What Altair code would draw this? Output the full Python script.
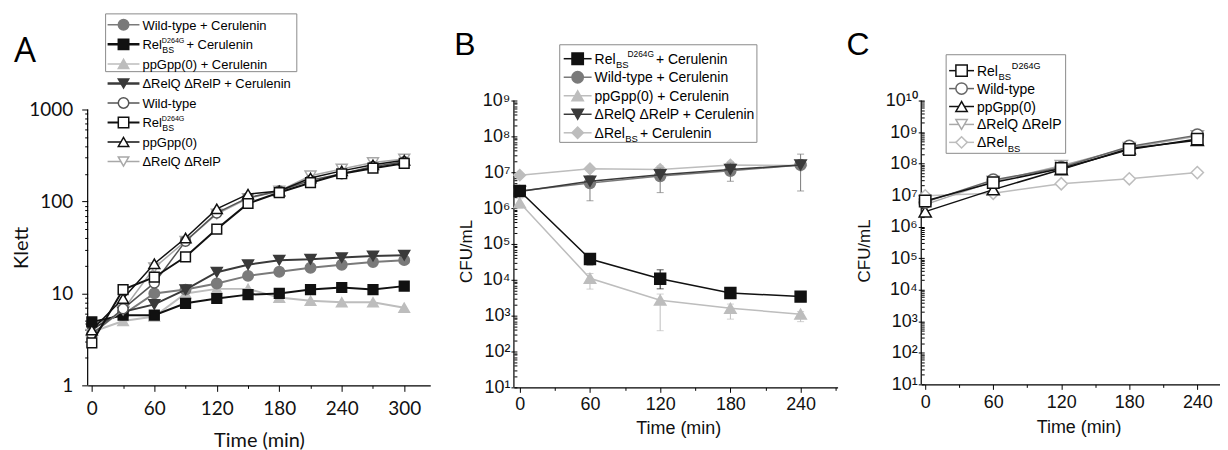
import altair as alt
import pandas as pd

# ---------------- Panel A : Klett growth curves ----------------
A_TIME = [0, 30, 60, 90, 120, 150, 180, 210, 240, 270, 300]
A_WT_CER = [4.6, 5.9, 10.0, 11.0, 12.8, 15.5, 17.2, 19.0, 20.5, 22.0, 23.0]
A_REL_CER = [4.9, 5.8, 5.8, 7.8, 8.8, 9.7, 10.0, 11.0, 11.6, 11.0, 12.0]
A_PPGPP_CER = [3.8, 5.0, 5.6, 10.0, 11.2, 11.2, 9.0, 8.3, 8.0, 8.0, 7.0]
A_RELQP_CER = [4.1, 6.3, 7.6, 11.0, 17.0, 20.5, 23.0, 23.5, 24.5, 25.5, 26.0]
A_WT = [3.6, 6.8, 13.0, 37.0, 75.0, 110.0, 130.0, 170.0, 200.0, 240.0, 270.0]
A_REL = [2.9, 11.0, 15.0, 25.0, 50.0, 95.0, 125.0, 160.0, 200.0, 230.0, 260.0]
A_PPGPP = [4.0, 8.8, 21.0, 40.0, 83.0, 120.0, 130.0, 180.0, 215.0, 250.0, 280.0]
A_RELQP = [3.6, 6.6, 19.0, 37.0, 73.0, 108.0, 130.0, 190.0, 225.0, 265.0, 290.0]
A_X_TICKS = [0, 30, 60, 90, 120, 150, 180, 210, 240, 270, 300]
A_Y_DECADES = [0, 1, 2]

# ---------------- Panel B : CFU/mL with cerulenin ----------------
B_TIME = [0, 60, 120, 180, 240]
B_REL_CER = [3.0e6, 3.8e4, 1.07e4, 4.3e3, 3.4e3]
B_REL_CER_LO = [2.5e6, 2.6e4, 5.6e3, 3.0e3, 3.0e3]
B_REL_CER_HI = [3.6e6, 5.2e4, 1.9e4, 5.6e3, 3.8e3]
B_WT_CER = [3.0e6, 5.0e6, 7.8e6, 1.1e7, 1.6e7]
B_WT_CER_LO = [2.6e6, 1.6e6, 2.7e6, 5.6e6, 3.0e6]
B_WT_CER_HI = [3.4e6, 8.0e6, 1.3e7, 1.8e7, 3.2e7]
B_PPGPP_CER = [1.4e6, 1.1e4, 2.7e3, 1.6e3, 1.1e3]
B_PPGPP_CER_LO = [1.0e6, 5.5e3, 3.8e2, 8.0e2, 6.8e2]
B_PPGPP_CER_HI = [1.9e6, 1.5e4, 4.0e3, 2.1e3, 1.3e3]
B_RELQP_CER = [2.9e6, 5.6e6, 8.5e6, 1.2e7, 1.6e7]
B_DREL_CER = [8.3e6, 1.25e7, 1.2e7, 1.6e7, 1.55e7]
B_DREL_CER_LO = [7.5e6, 1.1e7, 1.0e7, 1.3e7, 1.4e7]
B_DREL_CER_HI = [9.0e6, 1.4e7, 1.5e7, 2.0e7, 1.7e7]
B_X_TICKS = [0, 30, 60, 90, 120, 150, 180, 210, 240, 270]
B_Y_DECADES = [1, 2, 3, 4, 5, 6, 7, 8]

# ---------------- Panel C : CFU/mL growth ----------------
C_TIME = [0, 60, 120, 180, 240]
C_REL = [6.5e6, 2.5e7, 7.0e7, 2.8e8, 6.0e8]
C_WT = [6.0e6, 3.0e7, 7.5e7, 3.5e8, 8.0e8]
C_PPGPP = [3.0e6, 1.5e7, 6.5e7, 3.0e8, 5.5e8]
C_RELQP = [5.0e6, 2.7e7, 8.5e7, 3.2e8, 7.5e8]
C_DREL = [9.5e6, 1.15e7, 2.3e7, 3.3e7, 5.2e7]
C_X_TICKS = [0, 30, 60, 90, 120, 150, 180, 210, 240]
C_Y_DECADES = [1, 2, 3, 4, 5, 6, 7, 8, 9]

# ---------------- styling helpers ----------------
FA = "Lato"
FB = "Liberation Sans"
BLACK, DARK, GREY, LIGHT = "#111111", "#3a3a3a", "#7a7a7a", "#bdbdbd"

AW = {c: 556 for c in "0123456789abdeghnopqu"}
AW.update({"A": 667, "B": 667, "C": 722, "D": 722, "G": 778, "P": 667, "Q": 778,
           "R": 722, "S": 667, "W": 944, "c": 500, "f": 278, "i": 222, "j": 222,
           "k": 500, "l": 222, "m": 833, "r": 333, "s": 500, "t": 278, "v": 500,
           "y": 500, "z": 500, " ": 278, "+": 584, "-": 333, "(": 333, ")": 333,
           "\u0394": 668, "/": 278})


def tw(s, fs):
    return sum(AW.get(ch, 556) for ch in s) * fs / 1000.0


ONE = alt.Data(values=[{"a": 1}])


def log_ticks(decades):
    vals = []
    for k in decades:
        vals += [m * 10 ** k for m in range(1, 10)]
    vals.append(10 ** (decades[-1] + 1))
    return vals


MAJ_LOG = "abs(log(datum.value)/LN10 - round(log(datum.value)/LN10)) < 0.001"
SUP = "['\u2070','\u00b9','\u00b2','\u00b3','\u2074','\u2075','\u2076','\u2077','\u2078','\u2079']"
EXP = "round(log(datum.value)/LN10)"
SUP_LABEL = f"{MAJ_LOG} ? ('10' + ({EXP} >= 10 ? '\u00b9\u2070' : {SUP}[{EXP}])) : ''"


def series(X, Y, yscale, yaxis, t, v, color, shape, open_, size, lw=1.5, sw=1.5, lo=None, hi=None):
    d = {"t": t, "v": v}
    layers = []
    if lo is not None:
        d["lo"] = lo
        d["hi"] = hi
    df = pd.DataFrame(d)
    base = alt.Chart(df)
    layers.append(base.mark_line(color=color, strokeWidth=lw).encode(x=X, y=Y))
    if lo is not None:
        ylo = alt.Y("lo:Q", scale=yscale, axis=yaxis)
        yhi = alt.Y("hi:Q", scale=yscale, axis=yaxis)
        layers.append(base.mark_rule(color=color, strokeWidth=1).encode(x=X, y=ylo, y2="hi:Q"))
        layers.append(base.mark_tick(color=color, orient="horizontal", size=7, thickness=1).encode(x=X, y=ylo))
        layers.append(base.mark_tick(color=color, orient="horizontal", size=7, thickness=1).encode(x=X, y=yhi))
    layers.append(base.mark_point(shape=shape, filled=True, fill="white" if open_ else color,
                                  stroke=color, strokeWidth=sw, size=size, opacity=1).encode(x=X, y=Y))
    return layers


def legend(items, box, x0, y0, dy, line_len, fs, font, mk_size, text_gap=3):
    L = [alt.Chart(ONE).mark_rect(fill="white", stroke="#8a8a8a", strokeWidth=1).encode(
        x=alt.value(box[0]), x2=alt.value(box[2]), y=alt.value(box[1]), y2=alt.value(box[3]))]
    for i, it in enumerate(items):
        y = y0 + i * dy
        L.append(alt.Chart(ONE).mark_rule(color=it["color"], strokeWidth=it.get("lw", 1.5)).encode(
            x=alt.value(x0), x2=alt.value(x0 + line_len), y=alt.value(y)))
        L.append(alt.Chart(ONE).mark_point(shape=it["shape"], filled=True,
                                           fill="white" if it["open"] else it["color"],
                                           stroke=it["color"], strokeWidth=1.5, size=mk_size, opacity=1).encode(
            x=alt.value(x0 + line_len / 2), y=alt.value(y)))
        tx = x0 + line_len + text_gap
        base_y = y + fs * 0.36
        sub_start = None
        sub_w = 0
        for txt, kind in it["parts"]:
            if kind == "n":
                if sub_start is not None:
                    tx = sub_start + sub_w
                    sub_start = None
                    sub_w = 0
                L.append(alt.Chart(ONE).mark_text(text=txt, font=font, fontSize=fs, align="left",
                                                  baseline="alphabetic", color="black").encode(
                    x=alt.value(tx), y=alt.value(base_y)))
                tx += tw(txt, fs)
            elif kind == "sub":
                sfs = fs * 0.68
                sub_start = tx
                L.append(alt.Chart(ONE).mark_text(text=txt, font=font, fontSize=sfs, align="left",
                                                  baseline="alphabetic", color="black").encode(
                    x=alt.value(tx + 0.5), y=alt.value(base_y + fs * 0.3)))
                sub_w = max(sub_w, tw(txt, sfs) + 2.5)
            else:  # sup
                sfs = fs * it.get("supscale", 0.55)
                if sub_start is None:
                    sub_start = tx
                start = sub_start + it.get("supdx", 0)
                L.append(alt.Chart(ONE).mark_text(text=txt, font=font, fontSize=sfs, align="left",
                                                  baseline="alphabetic", color="black").encode(
                    x=alt.value(start), y=alt.value(base_y - fs * 0.45)))
                sub_w = max(sub_w, tw(txt, sfs) + it.get("supdx", 0) + 2)
    return L


def letter(txt, dx, dy, font, fs):
    return alt.Chart(ONE).mark_text(text=txt, font=font, fontSize=fs, align="left",
                                    baseline="alphabetic", color="black").encode(
        x=alt.value(dx), y=alt.value(dy))


def yrule(y0, h):
    return alt.Chart(ONE).mark_rule(color="black", strokeWidth=1.2).encode(
        x=alt.value(0), y=alt.value(y0), y2=alt.value(h))


REL = [("Rel", "n"), ("BS", "sub"), ("D264G", "sup")]

# ---------------- Panel A ----------------
A_W, A_H, A_GAP = 344, 286, 9           # plot top is 9 px above the 1000 tick
A_TOP = 1000 * 10 ** (A_GAP / ((A_H - A_GAP) / 3.0))
sA = alt.Scale(type="log", domain=[1, A_TOP], nice=False)
xA = alt.X("t:Q", scale=alt.Scale(domain=[-4, 325], nice=False, zero=False),
           axis=alt.Axis(values=A_X_TICKS, labelExpr="datum.value % 60 == 0 ? datum.label : ''",
                         tickSize={"condition": {"test": "datum.value % 60 == 0", "value": 6}, "value": 3},
                         title="Time (min)", titleFont=FA, titleFontSize=20, titleFontWeight="normal",
                         titleY=55, titleBaseline="middle", labelFont=FA, labelFontSize=19,
                         labelPadding=8, labelFlush=False))
axA = alt.Axis(values=log_ticks(A_Y_DECADES), format="d", domain=False,
               labelExpr=f"{MAJ_LOG} ? datum.label : ''",
               tickSize={"condition": {"test": MAJ_LOG, "value": 6}, "value": 3},
               title="Klett", titleFont=FA, titleFontSize=20, titleFontWeight="normal",
               titleX=-66, titleY=A_GAP + (A_H - A_GAP) / 2, titleAngle=-90, titleBaseline="middle",
               titleAlign="center", labelFont=FA, labelFontSize=19, labelPadding=9, labelFlush=False)
yA = alt.Y("v:Q", scale=sA, axis=axA)

A_layers = [yrule(A_GAP, A_H)]
A_layers += series(xA, yA, sA, axA, A_TIME, A_PPGPP_CER, LIGHT, "triangle-up", False, 110, lw=2)
A_layers += series(xA, yA, sA, axA, A_TIME, A_WT_CER, GREY, "circle", False, 110, lw=2)
A_layers += series(xA, yA, sA, axA, A_TIME, A_RELQP_CER, DARK, "triangle-down", False, 120, lw=2)
A_layers += series(xA, yA, sA, axA, A_TIME, A_REL_CER, BLACK, "square", False, 95, lw=2)
A_layers += series(xA, yA, sA, axA, A_TIME, A_RELQP, "#a8a8a8", "triangle-down", True, 120)
A_layers += series(xA, yA, sA, axA, A_TIME, A_WT, "#555555", "circle", True, 100)
A_layers += series(xA, yA, sA, axA, A_TIME, A_PPGPP, BLACK, "triangle-up", True, 120)
A_layers += series(xA, yA, sA, axA, A_TIME, A_REL, BLACK, "square", True, 95, lw=2)

A_leg_items = [
    {"color": GREY, "shape": "circle", "open": False, "parts": [("Wild-type + Cerulenin", "n")]},
    {"color": BLACK, "shape": "square", "open": False, "lw": 2.5, "parts": REL + [(" + Cerulenin", "n")]},
    {"color": LIGHT, "shape": "triangle-up", "open": False, "parts": [(" ppGpp(0) + Cerulenin", "n")]},
    {"color": DARK, "shape": "triangle-down", "open": False, "lw": 2.5, "parts": [("\u0394RelQ \u0394RelP + Cerulenin", "n")]},
    {"color": "#555555", "shape": "circle", "open": True, "parts": [("Wild-type", "n")]},
    {"color": BLACK, "shape": "square", "open": True, "lw": 2, "parts": REL},
    {"color": BLACK, "shape": "triangle-up", "open": True, "parts": [("ppGpp(0)", "n")]},
    {"color": "#a8a8a8", "shape": "triangle-down", "open": True, "parts": [("\u0394RelQ \u0394RelP", "n")]},
]
A_layers += legend(A_leg_items, (18, -87, 210, -29), 20, -76, 19.6, 32, 13, FB, 110)
A_layers.append(letter("A", -74, -39, "Open Sans", 35))
chartA = alt.layer(*A_layers).properties(width=A_W, height=A_H)

# ---------------- Panel B ----------------
B_W, B_H = 325, 288
sB = alt.Scale(type="log", domain=[10, 1e9], nice=False)
xB = alt.X("t:Q", scale=alt.Scale(domain=[-5, 271.6], nice=False, zero=False),
           axis=alt.Axis(values=B_X_TICKS, labelExpr="datum.value % 60 == 0 ? datum.label : ''",
                         tickSize={"condition": {"test": "datum.value % 60 == 0", "value": 5}, "value": 3},
                         title="Time (min)", titleFont=FB, titleFontSize=18, titleFontWeight="normal",
                         titleX=165, titleAlign="center", titleY=41, titleBaseline="middle",
                         labelFont=FB, labelFontSize=18, labelPadding=3, labelFlush=False))
axB = alt.Axis(values=log_ticks(B_Y_DECADES), labelExpr=SUP_LABEL, offset=-3, domain=False,
               tickSize={"condition": {"test": MAJ_LOG, "value": 6}, "value": 3},
               title="CFU/mL", titleFont=FB, titleFontSize=17, titleFontWeight="normal",
               titleX=-51, titleY=B_H / 2 + 7, titleAngle=-90, titleBaseline="middle", titleAlign="center",
               labelFont=FB, labelFontSize=18, labelPadding=1, labelFlush=False)
yB = alt.Y("v:Q", scale=sB, axis=axB)

B_layers = [yrule(0, B_H)]
B_layers += series(xB, yB, sB, axB, B_TIME, B_DREL_CER, LIGHT, "diamond", False, 130, lo=B_DREL_CER_LO, hi=B_DREL_CER_HI)
B_layers += series(xB, yB, sB, axB, B_TIME, B_WT_CER, GREY, "circle", False, 120, lo=B_WT_CER_LO, hi=B_WT_CER_HI)
B_layers += series(xB, yB, sB, axB, B_TIME, B_RELQP_CER, DARK, "triangle-down", False, 130)
B_layers += series(xB, yB, sB, axB, B_TIME, B_PPGPP_CER, LIGHT, "triangle-up", False, 130, lo=B_PPGPP_CER_LO, hi=B_PPGPP_CER_HI)
B_layers += series(xB, yB, sB, axB, B_TIME, B_REL_CER, BLACK, "square", False, 120, lo=B_REL_CER_LO, hi=B_REL_CER_HI)

B_leg_items = [
    {"color": BLACK, "shape": "square", "open": False, "parts": REL + [(" + Cerulenin", "n")], "supscale": 0.6, "supdx": 12},
    {"color": GREY, "shape": "circle", "open": False, "parts": [("Wild-type + Cerulenin", "n")]},
    {"color": LIGHT, "shape": "triangle-up", "open": False, "parts": [("ppGpp(0) + Cerulenin", "n")]},
    {"color": DARK, "shape": "triangle-down", "open": False, "parts": [("\u0394RelQ \u0394RelP + Cerulenin", "n")]},
    {"color": LIGHT, "shape": "diamond", "open": False, "parts": [("\u0394Rel", "n"), ("BS", "sub"), (" + Cerulenin", "n")]},
]
B_layers += legend(B_leg_items, (46, -56, 244, 42), 50, -42, 18.6, 28, 14, FB, 130)
B_layers.append(letter("B", -60, -46, "Liberation Sans", 32))
chartB = alt.layer(*B_layers).properties(width=B_W, height=B_H)

# ---------------- Panel C ----------------
C_W, C_H = 300, 285
sC = alt.Scale(type="log", domain=[10, 1e10], nice=False)
xC = alt.X("t:Q", scale=alt.Scale(domain=[-3.5, 260], nice=False, zero=False),
           axis=alt.Axis(values=C_X_TICKS, labelExpr="datum.value % 60 == 0 ? datum.label : ''",
                         tickSize={"condition": {"test": "datum.value % 60 == 0", "value": 5}, "value": 3},
                         title="Time (min)", titleFont=FB, titleFontSize=18, titleFontWeight="normal",
                         titleX=158, titleAlign="center", titleY=43, titleBaseline="middle",
                         labelFont=FB, labelFontSize=18, labelPadding=4, labelFlush=False))
axC = alt.Axis(values=log_ticks(C_Y_DECADES), labelExpr=SUP_LABEL, offset=-3, domain=False,
               tickSize={"condition": {"test": MAJ_LOG, "value": 6}, "value": 3},
               title="CFU/mL", titleFont=FB, titleFontSize=17, titleFontWeight="normal",
               titleX=-60, titleY=C_H / 2 + 8, titleAngle=-90, titleBaseline="middle", titleAlign="center",
               labelFont=FB, labelFontSize=18, labelPadding=1, labelFlush=False)
yC = alt.Y("v:Q", scale=sC, axis=axC)

C_layers = [yrule(0, C_H)]
C_layers += series(xC, yC, sC, axC, C_TIME, C_DREL, LIGHT, "diamond", True, 150)
C_layers += series(xC, yC, sC, axC, C_TIME, C_RELQP, "#a8a8a8", "triangle-down", True, 150)
C_layers += series(xC, yC, sC, axC, C_TIME, C_PPGPP, BLACK, "triangle-up", True, 150)
C_layers += series(xC, yC, sC, axC, C_TIME, C_WT, "#666666", "circle", True, 150)
C_layers += series(xC, yC, sC, axC, C_TIME, C_REL, BLACK, "square", True, 130)

C_leg_items = [
    {"color": BLACK, "shape": "square", "open": True, "parts": REL, "supscale": 0.65, "supdx": 14},
    {"color": "#666666", "shape": "circle", "open": True, "parts": [("Wild-type", "n")]},
    {"color": BLACK, "shape": "triangle-up", "open": True, "parts": [("ppGpp(0)", "n")]},
    {"color": "#a8a8a8", "shape": "triangle-down", "open": True, "parts": [("\u0394RelQ \u0394RelP", "n")]},
    {"color": LIGHT, "shape": "diamond", "open": True, "parts": [("\u0394Rel", "n"), ("BS", "sub")]},
]
C_layers += legend(C_leg_items, (25, -46, 145, 53), 28, -30, 18, 25, 14, FB, 130)
C_layers.append(letter("C", -75, -46, "Liberation Sans", 32))
chartC = alt.layer(*C_layers).properties(width=C_W, height=C_H)

chart = alt.hconcat(chartA, chartB, chartC, spacing=84, bounds="flush").properties(
    padding={"left": 4, "top": 4, "right": 0, "bottom": 0}
).configure_view(strokeWidth=0).configure_axis(
    grid=False, domainColor="black", tickColor="black", labelColor="#111111", titleColor="#111111",
    domainWidth=1.2, tickWidth=1
)

chart.save("out.html", embed_options={"renderer": "svg", "actions": False})
